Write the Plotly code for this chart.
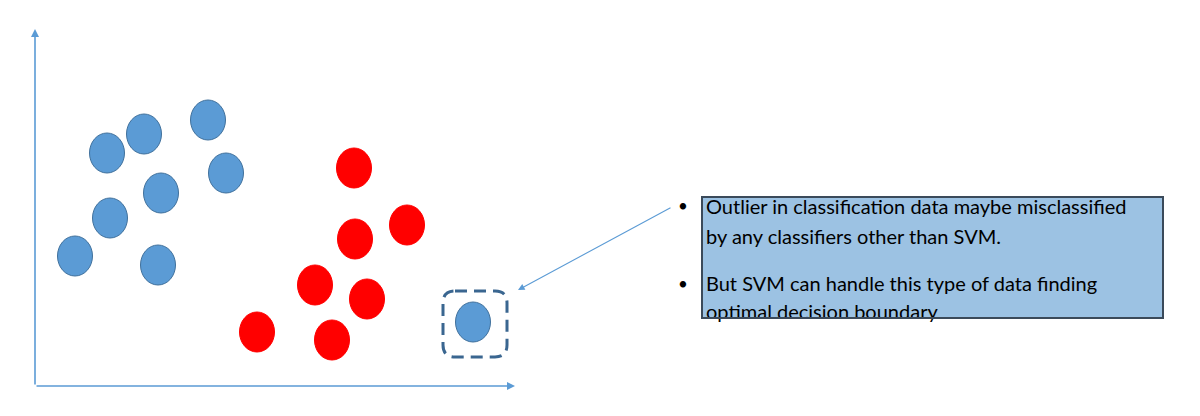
import plotly.graph_objects as go

# ---- data (chart units: origin at axes corner, x right, y up) ----
blue_x = [72, 109, 173, 191, 126, 75, 40, 123]
blue_y = [233, 252, 266, 213, 193, 168, 130, 121]
red_x = [319, 372, 320, 280, 332, 222, 297]
red_y = [218, 161, 147, 101, 87, 54, 46]
outlier_x = [438]
outlier_y = [64]

text_lines = [
    "Outlier in classification data maybe misclassified",
    "by any classifiers other than SVM.",
    "But SVM can handle this type of data finding",
    "optimal decision boundary",
]
text_y = [177, 147, 100, 72]
bullet_y = [178, 100]

# ---- styles ----
BLUE = "#5B9BD5"
BLUE_EDGE = "#41719C"
RED = "#FF0000"
RX, RY = 17.5, 20
FONT = "Lato"

fig = go.Figure()

shapes = []
def ellipse(x, y, fill, line):
    return dict(type="circle", xref="x", yref="y",
                x0=x - RX, x1=x + RX, y0=y - RY, y1=y + RY,
                fillcolor=fill, line=dict(color=line, width=1), layer="above")

for x, y in zip(blue_x, blue_y):
    shapes.append(ellipse(x, y, BLUE, BLUE_EDGE))
for x, y in zip(red_x, red_y):
    shapes.append(ellipse(x, y, RED, RED))
for x, y in zip(outlier_x, outlier_y):
    shapes.append(ellipse(x, y, BLUE, BLUE_EDGE))

# dashed rounded box around the outlier
bx0, bx1 = outlier_x[0] - 30, outlier_x[0] + 34
by0, by1 = outlier_y[0] - 35, outlier_y[0] + 31
r = 12
path = (f"M {bx0+r},{by1} L {bx1-r},{by1} Q {bx1},{by1} {bx1},{by1-r} "
        f"L {bx1},{by0+r} Q {bx1},{by0} {bx1-r},{by0} L {bx0+r},{by0} "
        f"Q {bx0},{by0} {bx0},{by0+r} L {bx0},{by1-r} Q {bx0},{by1} {bx0+r},{by1} Z")
shapes.append(dict(type="path", path=path, xref="x", yref="y",
                   line=dict(color="#3A6690", width=3, dash="12px,7px"), layer="above"))

# text box fill (below) and border (above)
tx0, tx1, ty0, ty1 = 667, 1128, 68, 189
shapes.append(dict(type="rect", xref="x", yref="y", x0=tx0, x1=tx1, y0=ty0, y1=ty1,
                   fillcolor="#9CC2E3", line=dict(width=0), layer="below"))
shapes.append(dict(type="rect", xref="x", yref="y", x0=tx0, x1=tx1, y0=ty0, y1=ty1,
                   fillcolor="rgba(0,0,0,0)", line=dict(color="#3B4A5A", width=2),
                   layer="above"))

# text
fig.add_trace(go.Scatter(x=[671] * len(text_lines), y=text_y, mode="text",
                         text=text_lines, textposition="middle right",
                         textfont=dict(family=FONT, size=20, color="#000000"),
                         hoverinfo="skip", showlegend=False))
fig.add_trace(go.Scatter(x=[643] * len(bullet_y), y=bullet_y, mode="text",
                         text=["•"] * len(bullet_y), textposition="middle right",
                         textfont=dict(family=FONT, size=17, color="#000000"),
                         hoverinfo="skip", showlegend=False))

annotations = [
    # y axis arrow
    dict(x=0, y=357, ax=0, ay=0, xref="x", yref="y", axref="x", ayref="y",
         showarrow=True, arrowhead=2, arrowsize=1, arrowwidth=1.6, arrowcolor=BLUE, text=""),
    # x axis arrow
    dict(x=480, y=0, ax=0, ay=0, xref="x", yref="y", axref="x", ayref="y",
         showarrow=True, arrowhead=2, arrowsize=1, arrowwidth=1.6, arrowcolor=BLUE, text=""),
    # pointer from text box to outlier
    dict(x=483, y=96, ax=637, ay=179, xref="x", yref="y", axref="x", ayref="y",
         showarrow=True, arrowhead=2, arrowsize=1.2, arrowwidth=1.1, arrowcolor=BLUE, text=""),
]

fig.update_layout(
    width=1200, height=416,
    margin=dict(l=0, r=0, t=0, b=0),
    paper_bgcolor="white", plot_bgcolor="white",
    shapes=shapes, annotations=annotations,
    showlegend=False,
    xaxis=dict(range=[-35, 1165], visible=False, fixedrange=True),
    yaxis=dict(range=[-30, 386], visible=False, fixedrange=True),
)

fig.write_html("out.html", config={"displayModeBar": False},
               post_script="document.body.style.margin='0';document.body.style.overflow='hidden';")
